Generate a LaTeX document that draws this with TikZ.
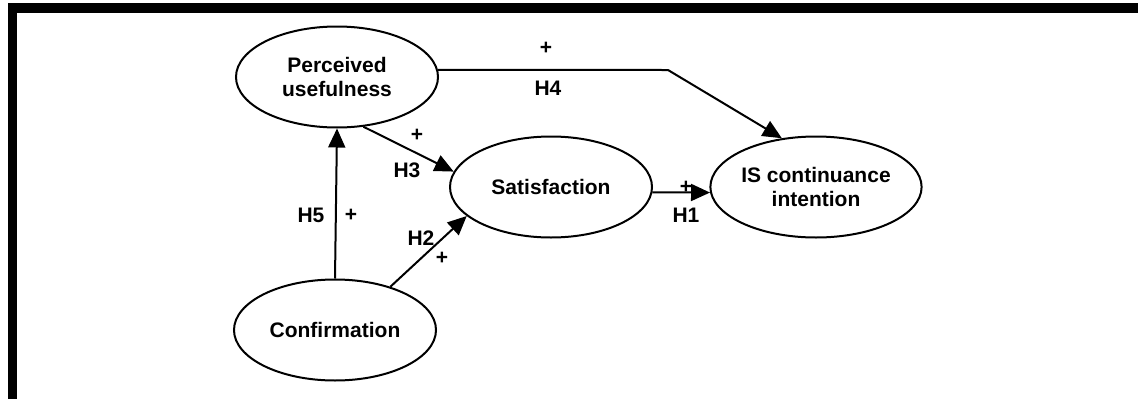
\documentclass[tikz,border=0pt]{standalone}
\usepackage{fontspec}
\setmainfont{Liberation Sans}
\usetikzlibrary{arrows.meta,shapes.geometric}

\tikzset{
  construct/.style={draw,line width=2pt,ellipse,minimum width=202pt,minimum height=101pt,
    inner sep=0pt,align=center,font=\fontsize{21}{24}\selectfont\bfseries},
  hyp/.style={draw,line width=2pt,-{Triangle[length=19pt,width=17pt]}},
  lbl/.style={inner sep=0pt,font=\fontsize{21}{24}\selectfont\bfseries}
}

\begin{document}
\begin{tikzpicture}[x=1pt,y=-1pt]
\useasboundingbox (0,0) rectangle (1138,399);
\fill[white] (0,0) rectangle (1138,399);
% frame (top and left only)
\fill[black] (8,3) rectangle (1138,13);
\fill[black] (8,3) rectangle (17,399);

% constructs
\node[construct] (pu) at (337,77) {Perceived\\usefulness};
\node[construct] (sat) at (551,187) {Satisfaction};
\node[construct] (isc) at (816,187) {IS continuance\\intention};
\node[construct] (conf) at (335,330) {Confirmation};
\coordinate (bend) at (668,70);

% hypotheses
\draw[hyp] (conf.north) -- (pu.south);
\draw[hyp] (pu.-62) -- (sat.171);
\draw[hyp] (conf.38) -- (sat.199);
\draw[hyp] (sat.-3.5) -- (isc.183.5);
\draw[hyp] (pu.4) -- (bend) -- (isc.125);

% labels
\node[lbl] (h4p) at (546,48) {+};
\node[lbl] (h4) at (548,88) {H4};
\node[lbl] (h3p) at (417,135) {+};
\node[lbl] (h3) at (407,170) {H3};
\node[lbl] (h5) at (311,215) {H5};
\node[lbl] (h5p) at (351,215) {+};
\node[lbl] (h2) at (421,238) {H2};
\node[lbl] (h2p) at (442,258) {+};
\node[lbl] (h1p) at (686,187) {+};
\node[lbl] (h1) at (686,215) {H1};
\end{tikzpicture}
\end{document}
